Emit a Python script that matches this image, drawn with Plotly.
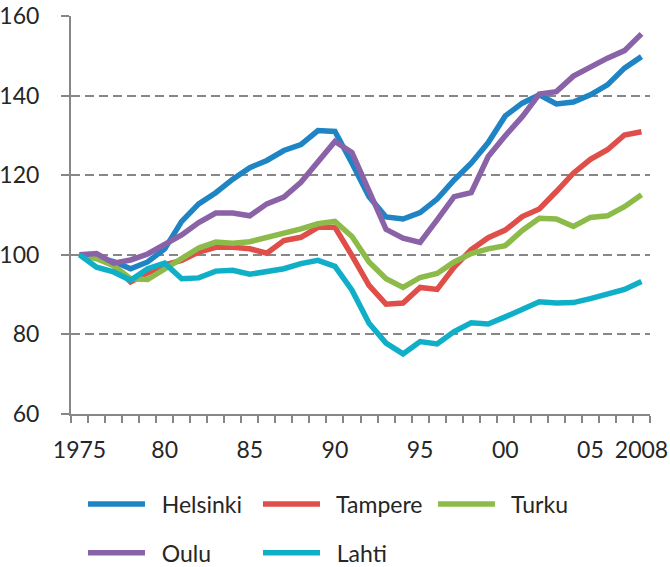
import plotly.graph_objects as go

years = list(range(1975, 2009))

helsinki = [100, 99.4, 98.3, 96.5, 98.2, 101.5, 108.4, 112.8, 115.6, 119.0, 121.9, 123.7, 126.2, 127.7, 131.2, 131.0,
            123.0, 114.6, 109.5, 109.0, 110.6, 114.0, 118.8, 123.0, 128.2, 134.9, 138.1, 140.2, 137.9, 138.4, 140.2,
            142.7, 146.9, 149.8]
tampere = [100, 99.3, 97.3, 93.2, 95.4, 97.5, 98.6, 100.7, 101.9, 101.9, 101.5, 100.4, 103.6, 104.4, 106.9, 106.9,
           99.8, 92.3, 87.6, 87.9, 91.8, 91.3, 96.9, 101.3, 104.3, 106.2, 109.6, 111.5, 115.9, 120.5, 124.0,
           126.4, 130.1, 130.9]
turku = [100, 99.0, 97.3, 94.0, 93.8, 96.5, 99.4, 101.7, 103.2, 102.9, 103.3, 104.3, 105.3, 106.5, 107.8, 108.4,
         104.6, 98.2, 94.0, 91.8, 94.3, 95.3, 98.2, 100.3, 101.5, 102.3, 106.1, 109.2, 109.0, 107.1, 109.4,
         109.8, 112.1, 115.1]
oulu = [100, 100.3, 97.9, 98.7, 100.2, 102.5, 105.0, 108.1, 110.5, 110.5, 109.8, 112.8, 114.5, 118.2, 123.4, 128.5,
        125.7, 115.9, 106.4, 104.2, 103.1, 108.8, 114.6, 115.6, 124.7, 129.9, 134.7, 140.4, 141.0, 144.9, 147.3,
        149.4, 151.3, 155.5]
lahti = [100, 96.9, 95.7, 93.6, 96.5, 97.9, 94.0, 94.2, 95.9, 96.1, 95.1, 95.7, 96.5, 97.8, 98.6, 97.1,
         91.1, 82.8, 77.8, 75.1, 78.2, 77.6, 80.7, 82.9, 82.6, 84.4, 86.3, 88.2, 87.9, 88.0, 89.0,
         90.0, 91.3, 93.3]

series_names = ["Helsinki", "Tampere", "Turku", "Oulu", "Lahti"]
series_values = [helsinki, tampere, turku, oulu, lahti]
series_colors = ["#1F84C4", "#E04E4A", "#8CBB4A", "#8A62A8", "#10AFC8"]
series_legend = ["legend", "legend", "legend", "legend2", "legend2"]

x_tickvals = [1975, 1980, 1985, 1990, 1995, 2000, 2005, 2008]
x_ticktext = ["1975", "80", "85", "90", "95", "00", "05", "2008"]
y_tickvals = [60, 80, 100, 120, 140, 160]

FONT = "Lato"
TXT = "#262626"
AX = "#878787"

fig = go.Figure()
for name, vals, col, lg in zip(series_names, series_values, series_colors, series_legend):
    fig.add_trace(go.Scatter(
        x=years, y=vals, name="\u00a0\u00a0" + name, mode="lines",
        line=dict(color=col, width=5.5, shape="linear"),
        legend=lg,
    ))

legend_common = dict(
    orientation="h", xanchor="left", yanchor="middle",
    font=dict(family=FONT, size=23, color=TXT),
    entrywidth=103, entrywidthmode="pixels",
    itemwidth=57, bgcolor="rgba(0,0,0,0)", borderwidth=0,
)

fig.update_layout(
    width=670, height=567,
    margin=dict(l=71, r=20, t=16, b=153, autoexpand=False),
    paper_bgcolor="white", plot_bgcolor="white",
    font=dict(family=FONT, size=23, color=TXT),
    showlegend=True,
    legend=dict(x=0.0207, y=-0.226, **legend_common),
    legend2=dict(x=0.0207, y=-0.349, **legend_common),
    xaxis=dict(
        range=[1974.5, 2008.5],
        tickmode="array", tickvals=x_tickvals, ticktext=x_ticktext,
        ticks="", showgrid=False, zeroline=False,
        showline=True, linecolor=AX, linewidth=2,
        ticklabelstandoff=14, ticklabeloverflow="allow",
        minor=dict(tickmode="linear", tick0=1974.5, dtick=1, ticks="outside",
                   ticklen=7, tickwidth=1.5, tickcolor=AX, showgrid=False),
        tickfont=dict(family=FONT, size=23, color=TXT),
    ),
    yaxis=dict(
        range=[60, 160],
        tickmode="array", tickvals=y_tickvals,
        ticks="outside", ticklen=8, tickwidth=2, tickcolor=AX,
        showline=True, linecolor=AX, linewidth=2,
        showgrid=True, gridcolor=AX, gridwidth=2, griddash="9px,5px",
        zeroline=False,
        ticklabelstandoff=17, ticklabeloverflow="allow",
        tickfont=dict(family=FONT, size=23, color=TXT),
    ),
)

fig.write_html("out.html", config={"displayModeBar": False},
               post_script="document.body.style.margin='0';")
